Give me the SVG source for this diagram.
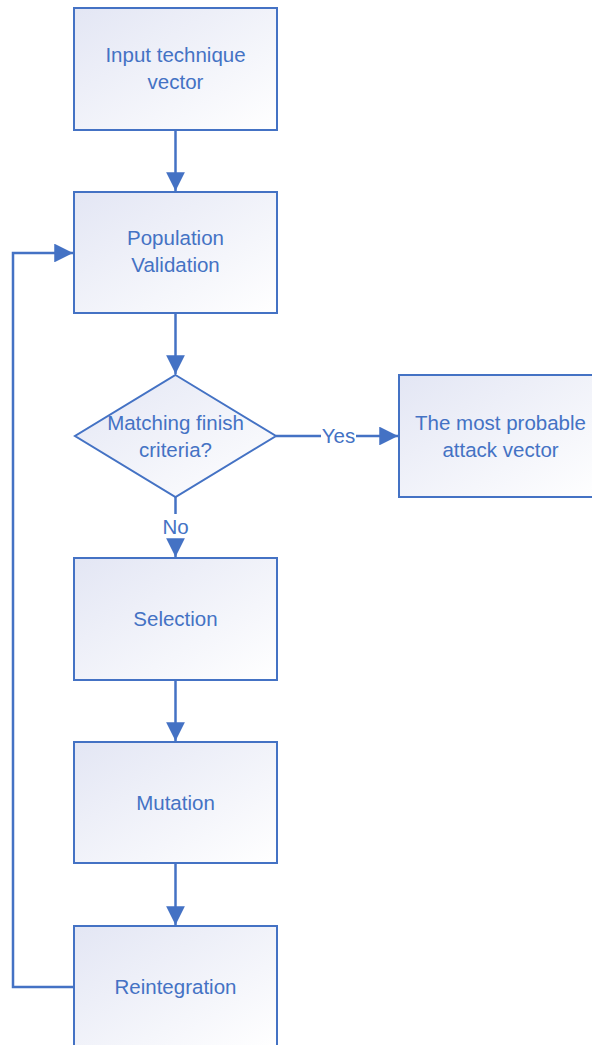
<svg xmlns="http://www.w3.org/2000/svg" width="592" height="1045" viewBox="0 0 592 1045">
  <defs>
    <linearGradient id="fill" x1="0" y1="0" x2="1" y2="1">
      <stop offset="0" stop-color="#E3E6F4"/>
      <stop offset="1" stop-color="#FFFFFF"/>
    </linearGradient>
    <marker id="arr" viewBox="0 0 10 10" refX="10" refY="5" markerWidth="7.5" markerHeight="7.5" markerUnits="strokeWidth" orient="auto">
      <path d="M0,0 L10,5 L0,10 Z" fill="#4472C4"/>
    </marker>
    <style>
      .node { fill: url(#fill); stroke: #4472C4; stroke-width: 2; }
      .lbl { font-family: "Liberation Sans", Arial, sans-serif; font-size: 20.5px; fill: #4472C4; text-anchor: middle; }
      .edge { fill: none; stroke: #4472C4; stroke-width: 2.5; }
    </style>
  </defs>
  <rect width="592" height="1045" fill="#FFFFFF"/>

  <g id="connectors">
    <path class="edge" d="M175.5,130 V191" marker-end="url(#arr)"/>
    <path class="edge" d="M175.5,313 V374" marker-end="url(#arr)"/>
    <path class="edge" d="M276,436 H321"/>
    <path class="edge" d="M356,436 H398" marker-end="url(#arr)"/>
    <path class="edge" d="M175.5,497 V514"/>
    <path class="edge" d="M175.5,542 V557" marker-end="url(#arr)"/>
    <path class="edge" d="M175.5,680 V741" marker-end="url(#arr)"/>
    <path class="edge" d="M175.5,863 V925" marker-end="url(#arr)"/>
    <path class="edge" d="M74,987 H13 V253 H73" marker-end="url(#arr)"/>
    <text class="lbl" x="338.5" y="443">Yes</text>
    <text class="lbl" x="175.5" y="534">No</text>
  </g>

  <g id="n-input">
    <rect class="node" x="74" y="8" width="203" height="122"/>
    <text class="lbl" x="175.5" y="62">Input technique</text>
    <text class="lbl" x="175.5" y="89">vector</text>
  </g>
  <g id="n-population">
    <rect class="node" x="74" y="192" width="203" height="121"/>
    <text class="lbl" x="175.5" y="245">Population</text>
    <text class="lbl" x="175.5" y="272">Validation</text>
  </g>
  <g id="n-decision">
    <polygon class="node" points="175.5,375 276,436 175.5,497 75,436"/>
    <text class="lbl" x="175.5" y="430">Matching finish</text>
    <text class="lbl" x="175.5" y="457">criteria?</text>
  </g>
  <g id="n-result">
    <rect class="node" x="399" y="375" width="203" height="122"/>
    <text class="lbl" x="500.5" y="430">The most probable</text>
    <text class="lbl" x="500.5" y="457">attack vector</text>
  </g>
  <g id="n-selection">
    <rect class="node" x="74" y="558" width="203" height="122"/>
    <text class="lbl" x="175.5" y="626">Selection</text>
  </g>
  <g id="n-mutation">
    <rect class="node" x="74" y="742" width="203" height="121"/>
    <text class="lbl" x="175.5" y="810">Mutation</text>
  </g>
  <g id="n-reintegration">
    <rect class="node" x="74" y="926" width="203" height="122"/>
    <text class="lbl" x="175.5" y="994">Reintegration</text>
  </g>
</svg>
